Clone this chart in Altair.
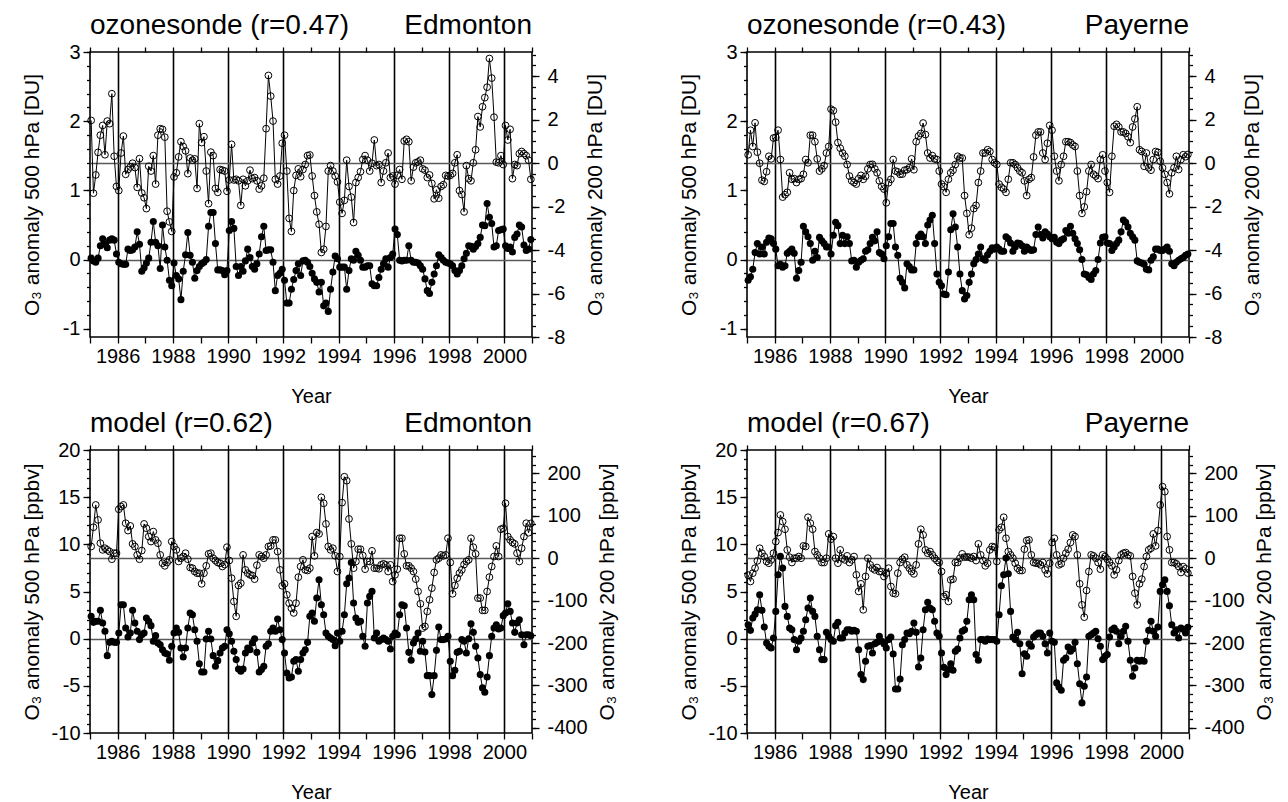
import altair as alt
import pandas as pd

FONT = "Liberation Sans"
FIRST_YEAR = 1985
LAST_YEAR = 2001

# ---------------- data (monthly anomalies, Jan 1985 .. Dec 2000) ----------------
# Edmonton ozonesonde, 500 hPa [DU] (filled dots, left axis)
EDM_SONDE_500 = [
    0.02, -0.02, -0.04, 0.02, 0.20, 0.30, 0.22, 0.17, 0.28, 0.30, 0.28, 0.08,
    -0.04, -0.06, -0.07, -0.07, 0.15, 0.13, 0.14, 0.18, 0.40, 0.22, -0.17, -0.12,
    -0.05, 0.02, 0.25, 0.55, 0.25, 0.20, -0.13, 0.50, 0.18, -0.01, -0.30, -0.38,
    -0.05, -0.23, -0.28, -0.58, -0.17, 0.07, 0.39, 0.06, -0.04, -0.27, -0.16, -0.10,
    -0.06, -0.04, 0.00, 0.48, 0.68, 0.68, 0.23, -0.15, -0.15, -0.16, -0.22, -0.16,
    0.42, 0.55, 0.45, -0.10, -0.23, -0.10, -0.17, -0.02, 0.15, 0.03, -0.10, -0.14,
    -0.06, 0.08, 0.33, 0.48, 0.13, 0.14, 0.14, -0.04, -0.45, -0.23, -0.20, -0.14,
    -0.30, -0.63, -0.63, -0.43, -0.29, -0.16, -0.06, -0.23, -0.02, -0.01, -0.04, -0.10,
    -0.20, -0.28, -0.33, -0.47, -0.33, -0.67, -0.63, -0.75, -0.43, -0.18, 0.05, 0.01,
    -0.11, -0.11, -0.11, -0.43, -0.16, 0.01, -0.01, 0.12, 0.06, -0.01, -0.11, -0.11,
    -0.09, -0.09, -0.35, -0.38, -0.38, -0.26, -0.14, -0.06, 0.01, -0.11, 0.03, 0.08,
    0.44, 0.36, -0.01, -0.02, -0.01, -0.01, 0.20, -0.01, -0.04, -0.04, -0.05, -0.09,
    -0.14, -0.28, -0.45, -0.49, -0.33, -0.21, -0.09, 0.07, 0.03, -0.01, -0.04, -0.05,
    -0.06, -0.09, -0.16, -0.21, -0.16, -0.09, 0.01, 0.09, 0.20, 0.19, 0.15, 0.19,
    0.23, 0.32, 0.50, 0.49, 0.81, 0.61, 0.52, 0.18, 0.20, 0.42, 0.43, 0.44,
    0.20, 0.16, 0.18, 0.11, 0.32, 0.37, 0.50, 0.47, 0.21, 0.13, 0.15, 0.29,
]
# Edmonton ozonesonde, 200 hPa [DU] (open circles, right axis)
EDM_SONDE_200 = [
    1.97, -1.38, -0.54, 0.50, 1.29, 1.74, 0.39, 1.94, 1.82, 3.20, 0.32, -1.07,
    -1.26, 0.47, 1.25, -0.51, -0.29, -0.17, 0.00, -0.20, -1.11, 0.21, -1.37, -1.59,
    -2.09, -0.14, -0.36, 0.35, -0.96, 1.29, 1.59, 1.56, 1.20, -2.21, -2.70, -3.14,
    -0.63, -0.44, 0.29, 0.99, 0.77, 0.57, -0.48, 0.24, 0.14, 0.20, -1.16, 1.82,
    0.95, 1.22, -0.36, -1.86, 0.51, 0.35, -1.16, -1.34, -0.29, -0.32, -0.36, -1.29,
    -0.77, 0.87, -0.77, -0.74, -0.81, -1.94, -0.74, -1.04, -0.81, -0.32, -0.71, -0.66,
    -0.81, -1.19, -1.04, -0.69, 1.59, 4.04, 3.09, 1.94, -0.74, -0.96, -0.59, 0.92,
    1.29, -0.36, -2.54, -3.14, -1.26, -0.56, -0.26, -0.62, -0.29, -0.06, 0.35, 0.38,
    -0.59, -1.49, -2.24, -2.81, -4.11, -3.96, -2.91, -0.36, -0.11, -0.36, -0.59, -0.86,
    -1.79, -2.31, -1.71, 0.14, -1.07, -1.56, -2.73, -0.89, -0.66, -0.39, 0.17, 0.35,
    0.14, -0.36, 0.00, 1.07, -0.11, -0.06, -0.89, -0.36, 0.02, 0.47, -0.66, -0.59,
    -0.96, -0.56, -0.29, -0.74, 1.02, 1.10, 0.99, -0.81, -0.18, 0.02, 0.06, 0.14,
    -0.26, -0.32, -0.66, -0.54, -0.93, -1.64, -1.22, -1.61, -1.07, -0.99, -0.56, -0.59,
    -0.56, -0.47, 0.02, 0.39, -1.26, -1.44, -2.24, -0.11, -0.71, -0.81, 0.02, 0.62,
    2.15, 1.67, 2.60, 3.02, 3.50, 4.82, 3.92, 2.12, 0.05, 0.02, 0.35, -0.06,
    1.74, 1.07, 1.56, -0.71, -0.06, -0.11, 0.44, 0.54, 0.44, 0.35, 0.14, -0.74,
]
# Payerne ozonesonde, 500 hPa [DU]
PAY_SONDE_500 = [
    -0.30, -0.25, -0.14, 0.10, 0.23, 0.08, 0.18, 0.08, 0.25, 0.31, 0.30, 0.23,
    0.15, -0.09, -0.07, -0.11, -0.09, 0.09, 0.12, 0.15, 0.09, -0.27, -0.16, -0.04,
    0.48, 0.40, 0.33, 0.23, -0.01, 0.12, 0.03, 0.32, 0.27, 0.23, 0.18, 0.18,
    0.08, 0.35, 0.54, 0.49, 0.23, 0.35, 0.23, 0.33, 0.23, -0.02, -0.01, -0.11,
    -0.04, -0.01, 0.01, 0.12, 0.14, 0.23, 0.32, 0.27, 0.40, 0.10, 0.08, 0.01,
    0.20, 0.33, 0.52, 0.52, 0.18, 0.06, -0.27, -0.33, -0.41, -0.06, -0.10, -0.15,
    -0.15, 0.23, 0.33, 0.37, 0.33, 0.23, 0.50, 0.57, 0.64, 0.23, -0.21, -0.33,
    -0.38, -0.50, -0.51, -0.18, 0.43, 0.66, 0.47, 0.18, -0.21, -0.45, -0.57, -0.52,
    -0.33, -0.21, -0.06, 0.00, 0.08, 0.18, 0.01, -0.01, 0.07, 0.12, 0.17, 0.15,
    0.18, 0.15, 0.12, 0.12, 0.33, 0.30, 0.24, 0.12, 0.18, 0.24, 0.23, 0.20,
    0.12, 0.18, 0.15, 0.13, 0.14, 0.36, 0.47, 0.36, 0.31, 0.40, 0.37, 0.33,
    0.30, 0.32, 0.25, 0.23, 0.28, 0.30, 0.42, 0.38, 0.48, 0.38, 0.30, 0.23,
    0.14, 0.00, -0.21, -0.22, -0.26, -0.29, -0.21, -0.16, 0.00, 0.24, 0.32, 0.33,
    0.24, 0.23, 0.13, 0.18, 0.23, 0.28, 0.40, 0.57, 0.54, 0.47, 0.38, 0.33,
    0.28, -0.02, -0.04, -0.05, -0.07, -0.14, -0.15, -0.01, 0.04, 0.15, 0.15, 0.13,
    0.13, 0.15, 0.18, 0.12, -0.06, -0.09, -0.04, -0.01, 0.01, 0.03, 0.06, 0.08,
]
# Payerne ozonesonde, 200 hPa [DU]
PAY_SONDE_200 = [
    0.39, 1.52, 0.77, 1.86, 0.51, 0.00, -0.78, -0.84, -0.39, 0.32, 0.20, 1.16,
    1.19, 1.52, 0.17, -1.56, -1.45, -1.34, -0.44, -0.74, -0.71, -0.89, -0.74, -0.71,
    -0.51, 0.17, 0.02, 1.29, 1.29, 0.99, 0.20, -0.36, -0.26, -0.11, 0.47, 0.77,
    2.49, 2.42, 1.89, 0.95, 0.69, 0.47, 0.32, -0.06, -0.59, -0.81, -0.89, -0.96,
    -0.71, -0.56, -0.74, -0.60, -0.26, -0.06, -0.05, -0.26, -0.44, -0.81, -1.07, -1.19,
    -1.82, -0.90, -0.74, 0.17, -0.36, -0.40, -0.51, -0.50, -0.32, -0.30, -0.21, 0.20,
    -0.30, 0.99, 1.25, 1.37, 1.85, 1.32, 0.47, 0.24, 0.35, 0.20, 0.17, -0.36,
    -0.96, -1.08, -1.34, -0.74, -0.44, -0.32, -0.06, 0.32, 0.24, 0.24, -1.49, -2.31,
    -3.29, -2.99, -2.09, -1.94, -0.89, -0.36, 0.47, 0.47, 0.62, 0.54, 0.17, 0.02,
    -0.06, -0.96, -1.11, -1.19, -1.34, -0.74, 0.02, 0.02, -0.06, -0.21, -0.36, -0.44,
    -0.81, -1.49, -0.74, -0.66, 0.29, 1.29, 1.44, 1.44, 0.47, 0.17, 0.92, 1.74,
    1.52, 0.32, -0.36, -0.81, -0.06, 0.32, 0.99, 0.99, 0.95, 0.84, 0.77, -0.36,
    -1.49, -2.31, -2.01, -1.31, -0.36, -0.06, -0.51, -0.59, -0.71, 0.17, 0.39, -0.36,
    -0.89, -1.34, 0.32, 1.70, 1.79, 1.67, 1.44, 1.44, 1.37, 1.22, 0.95, 1.67,
    2.04, 2.60, 0.62, 0.54, -0.14, 0.47, -0.21, -0.32, 0.17, 0.54, 0.50, 0.09,
    -0.21, -0.51, -0.89, -1.41, -0.44, -0.21, 0.32, -0.29, 0.17, 0.39, 0.30, 0.40,
]
# Edmonton model, 500 hPa [ppbv]
EDM_MODEL_500 = [
    2.37, 1.73, 1.84, 1.84, 3.00, 1.66, 0.78, -1.80, -0.39, -0.28, -0.39, -0.39,
    0.60, 3.60, 3.60, 1.13, 0.18, 0.60, 3.00, 1.66, 0.78, -0.10, 0.42, 0.60,
    2.19, 1.84, 1.38, -0.28, 0.32, -0.46, -0.64, -1.17, -1.52, -1.62, -2.29, -0.81,
    0.60, 1.13, 0.67, -0.99, -1.94, -0.99, 1.13, 2.72, 2.54, 0.95, -0.28, -2.65,
    -3.53, -3.53, -0.04, 0.78, -0.04, -1.80, -2.93, -2.33, -1.52, -0.99, -0.81, 0.95,
    0.53, -0.28, -1.34, -2.22, -3.21, -3.46, -3.21, -1.52, -0.99, -1.17, -0.46, 0.00,
    -1.45, -3.53, -3.28, -2.93, -0.81, -0.53, 0.78, 1.13, 0.78, 2.08, 0.95, -0.10,
    -1.52, -3.64, -4.17, -4.06, -2.40, -2.22, -3.46, -2.22, -1.52, -1.17, -0.39, 2.37,
    2.72, 1.84, 4.31, 6.25, 3.60, 2.54, 0.60, 0.25, 0.07, -0.10, -0.74, 0.60,
    -0.28, 0.78, 2.54, 5.82, 6.42, 8.08, 3.78, 2.19, 1.73, 1.84, 0.25, -0.81,
    3.78, 4.48, 5.01, 0.07, 0.60, -0.28, -0.10, 0.07, -0.10, -0.28, -1.09, 0.25,
    0.60, 0.42, 2.54, 3.60, 3.49, 1.13, -1.45, -2.29, -0.46, -0.04, 0.60, -1.34,
    -0.28, -1.41, -3.92, -3.92, -5.93, -3.92, -1.24, 1.24, -0.10, -0.10, -0.04, 0.25,
    -2.40, -3.92, -3.35, -1.45, -1.34, -0.10, -0.28, -1.52, 0.00, 1.59, 0.67, -0.81,
    -2.05, -3.81, -5.22, -5.68, -4.06, -1.80, 0.25, 1.13, 1.48, 1.02, 1.13, 2.44,
    2.72, 3.71, 2.89, 1.66, 0.67, 1.66, 2.01, 0.42, -0.64, 0.42, 0.42, 0.30,
]
# Edmonton model, 200 hPa [ppbv]
EDM_MODEL_200 = [
    27.5, 72.9, 125.5, 90.2, 35.3, 19.6, 23.5, 19.6, 15.7, -2.4, 11.8, 11.8,
    115.3, 121.6, 125.5, 82.4, 65.1, 76.1, 33.7, 27.5, 7.8, -2.4, 18.0, 80.8,
    70.6, 51.0, 39.2, 62.7, 43.1, 35.3, 7.8, -11.8, -18.0, -10.2, -3.9, 39.2,
    27.5, 19.6, -7.8, 0.0, 3.9, 11.8, -2.4, -22.0, -23.5, -31.4, -35.3, -35.3,
    -60.4, -35.3, -18.0, 10.2, 11.8, 0.0, -5.5, -10.2, -11.8, -19.6, -15.0, 25.9,
    -5.5, -47.1, -102.0, -137.0, -64.3, -58.8, 7.8, -27.5, -35.3, -39.2, -40.8, -49.4,
    -16.5, 7.8, 3.9, 0.0, 7.8, 27.5, 29.0, 43.1, 43.1, 15.7, -27.5, -65.1,
    -60.4, -86.3, -106.0, -118.0, -129.0, -106.0, -44.7, -19.6, -3.9, -27.5, -29.0, -23.5,
    51.0, 5.5, 60.4, 57.3, 143.5, 129.4, 80.8, 27.5, 19.6, 23.5, 5.5, -31.4,
    3.9, 131.0, 192.0, 182.7, 92.5, 33.7, -23.5, -7.8, 21.2, 21.2, 6.3, -25.9,
    -7.8, -7.8, 17.3, -23.5, -23.5, -25.0, -15.7, -13.3, -15.7, -31.4, -15.7, -54.9,
    -39.2, -25.9, 47.0, 47.0, 10.2, -18.0, -18.0, -23.5, -31.4, -49.4, -78.4, -107.5,
    -164.7, -160.8, -125.5, -98.0, -70.6, -33.7, -3.9, 0.0, 7.8, 5.5, 7.8, 47.0,
    -10.2, -83.9, -64.3, -47.1, -35.3, -27.5, -15.0, -7.8, -3.9, 47.0, 25.9, 10.2,
    -94.1, -94.0, -123.0, -123.0, -78.4, -44.7, -19.6, 3.9, 29.0, 3.9, 68.2, 70.6,
    129.4, 51.0, 43.1, 36.9, 33.7, 11.8, -7.8, 23.5, 51.0, 82.4, 60.0, 82.0,
]
# Payerne model, 500 hPa [ppbv]
PAY_MODEL_500 = [
    1.48, 0.88, 2.19, 2.60, 3.07, 4.66, 3.00, 1.24, -0.46, -0.81, -0.99, 0.07,
    2.89, 6.78, 8.72, 7.48, 3.42, 2.36, 1.13, 0.95, -0.10, -1.17, -0.28, 0.07,
    0.78, 2.01, 3.25, 4.31, 2.89, 2.36, 0.25, -1.17, -2.22, -2.22, 0.67, 0.25,
    -0.10, -0.28, 1.38, 1.73, 0.07, 0.07, 0.60, 0.95, 0.95, 0.78, 0.88, 0.78,
    -1.17, -3.81, -4.34, -2.40, -0.81, -0.74, -1.52, -0.53, -0.39, 0.25, -0.28, -0.53,
    -0.99, -0.10, 0.18, -1.62, -5.33, -5.33, -4.27, -0.64, -0.10, 0.60, 0.53, 0.78,
    1.66, 0.67, -3.00, -2.05, 0.95, 3.07, 3.85, 3.25, 3.07, 1.84, 0.60, 0.25,
    -1.52, -3.04, -3.81, -3.28, -2.65, -3.35, -1.34, -1.09, 0.07, 0.78, 0.95, 1.84,
    4.13, 4.66, 4.13, -1.69, -2.29, -0.10, -0.10, -0.28, -0.04, -0.10, -0.10, -0.10,
    -0.28, 2.54, 5.61, 6.78, 8.54, 6.88, 2.89, 0.18, -0.10, 0.67, -0.53, -3.71,
    -1.59, -1.87, -0.53, -0.81, 0.18, 0.42, 0.60, 0.60, 0.25, -0.53, -1.52, 0.60,
    -0.28, -0.39, -4.69, -5.12, -5.47, -2.29, -2.05, -0.88, -1.34, -1.09, -0.39, -2.65,
    -4.77, -6.81, -5.05, -4.06, 0.25, 0.42, 0.60, 0.78, 0.00, -0.81, -2.22, -1.87,
    -1.69, 0.18, 0.95, 1.13, 0.78, -0.53, 0.25, 0.78, 1.31, -0.28, -2.29, -3.99,
    -3.11, -2.29, -2.40, -2.29, -2.40, -0.28, 0.88, 1.84, 0.78, 0.25, 1.24, 5.01,
    5.72, 6.25, 5.01, 3.49, 1.48, 0.60, 0.95, 0.07, 1.13, 1.00, 0.60, 1.20,
]
# Payerne model, 200 hPa [ppbv]
PAY_MODEL_200 = [
    -40.0, -54.9, -35.3, -23.5, -6.3, 23.5, 11.8, 3.9, -7.8, -11.8, -3.9, 11.8,
    39.2, 60.4, 102.0, 86.3, 68.2, 19.6, 2.4, -10.2, 0.0, 0.0, 3.9, 0.0,
    29.0, 27.5, 96.5, 82.4, 68.2, 15.7, 7.8, 0.0, -10.2, -10.2, 0.0, 57.3,
    44.7, 51.0, 0.0, -11.8, 19.6, 0.0, -3.9, 5.5, -10.2, -3.9, 3.9, -39.2,
    -78.4, -60.4, -121.6, -43.1, 0.0, -15.7, -23.5, -27.5, -22.0, -31.4, -31.4, -43.1,
    -35.3, -23.5, -66.7, -82.4, -83.9, -35.3, -10.2, -2.4, 2.4, -15.7, -23.5, -31.4,
    -36.9, -15.7, 33.7, 68.2, 54.9, 19.6, 11.8, 15.7, 7.8, 0.0, -5.5, -10.2,
    -31.4, -90.2, -86.3, -102.0, -51.0, -49.4, -10.2, -10.2, 0.0, 10.2, 2.4, 3.0,
    2.4, 0.0, 3.9, -5.5, 33.7, 7.8, -5.5, -18.0, -11.8, 19.6, 27.5, 25.9,
    -7.8, 66.7, 72.9, 96.5, 47.0, 15.7, 7.8, 0.0, -11.8, -23.5, -29.0, -29.0,
    21.2, 41.6, 43.1, 7.8, -10.2, -11.8, -11.8, -15.7, -10.2, -27.5, -36.9, -11.8,
    36.9, 47.0, 7.8, -15.7, -13.0, 0.0, 11.8, 21.2, 36.9, 54.9, 51.0, 7.8,
    -60.4, -110.0, -139.0, -76.1, -31.4, 7.8, 5.5, 0.0, -10.2, -25.9, 7.8, 3.9,
    -2.4, -10.2, -18.0, -39.2, -27.5, -5.5, 7.8, 11.8, 13.3, 7.8, 5.5, -43.1,
    -82.4, -110.0, -60.4, -49.4, -19.6, 3.9, 19.6, 23.5, 57.3, 29.0, 65.1, 125.5,
    168.6, 156.9, 51.0, 19.6, -10.2, -10.2, -13.3, -19.6, -33.7, -20.0, -25.0, -35.0,
]

# ---------------- axis ticks ----------------
YEAR_TICKS = list(range(FIRST_YEAR, LAST_YEAR + 1))
SONDE_500_MAJOR = [-1, 0, 1, 2, 3]
SONDE_500_MINOR = [round(-1.0 + 0.2 * k, 1) for k in range(21)]
SONDE_200_MAJOR = [-8, -6, -4, -2, 0, 2, 4]
SONDE_200_MINOR = [-8.0 + 0.5 * k for k in range(27)]
MODEL_500_MAJOR = [-10, -5, 0, 5, 10, 15, 20]
MODEL_500_MINOR = list(range(-10, 21))
MODEL_200_MAJOR = [-400, -300, -200, -100, 0, 100, 200]
MODEL_200_MINOR = list(range(-400, 241, 20))

PANEL_W = 442
TOP_H = 285
BOT_H = 283
ZERO_COLOR = "#5a5a5a"


def month_times(n):
    return [FIRST_YEAR + (k + 0.5) / 12.0 for k in range(n)]


def x_channel(orient):
    scale = alt.Scale(domain=[FIRST_YEAR, LAST_YEAR], nice=False, zero=False)
    if orient == "bottom":
        axis = alt.Axis(
            orient="bottom", values=YEAR_TICKS,
            labelExpr="(datum.value % 2 == 0 && datum.value > 1985 && datum.value < 2001) ? '' + datum.value : ''",
            labelOverlap=False, labelFontSize=20, labelPadding=3, labelColor="black",
            tickSize=6, tickWidth=1.3, tickColor="black", domain=False,
            grid=True, gridColor="black", gridWidth=1.6,
            gridOpacity={"condition": {"test": "datum.value % 2 == 0", "value": 1}, "value": 0},
            title="Year", titleFontSize=20, titleFontWeight="normal", titleColor="black",
            titlePadding=20,
        )
    else:
        axis = alt.Axis(
            orient="top", values=YEAR_TICKS, labels=False,
            tickSize=5, tickWidth=1.3, tickColor="black", domain=False, grid=False,
            title="",
        )
    return alt.X("t:Q", scale=scale, axis=axis)


def major_axis(orient, values, title, extent, pad, label_pad):
    props = dict(
        orient=orient, values=values, labelExpr="'' + datum.value",
        labelOverlap=False, labelFontSize=20, labelPadding=label_pad, labelColor="black",
        tickSize=7, tickWidth=1.3, tickColor="black", domain=False,
        grid=True, gridColor=ZERO_COLOR, gridWidth=1.5,
        gridOpacity={"condition": {"test": "datum.value == 0", "value": 1}, "value": 0},
        title=title, titleFontSize=21, titleFontWeight="normal", titleColor="black",
        titlePadding=pad, minExtent=extent, maxExtent=extent,
    )
    if orient == "right":
        props["titleAngle"] = 270
        props["titleBaseline"] = "top"
    return alt.Axis(**props)


def minor_axis(orient, values):
    return alt.Axis(
        orient=orient, values=values, labels=False, tickSize=3.5, tickWidth=1.3,
        tickColor="black", domain=False, grid=False, title="", minExtent=0, maxExtent=4,
    )


def series(df, col, xorient, yorient, dom, major_vals, minor_vals, title, ext, pad, label_pad, filled):
    scale = alt.Scale(domain=dom, nice=False, zero=False)
    x = x_channel(xorient)
    y_major = alt.Y(f"{col}:Q", scale=scale,
                    axis=major_axis(yorient, major_vals, title, ext, pad, label_pad))
    y_minor = alt.Y(f"{col}:Q", scale=scale, axis=minor_axis(yorient, minor_vals))
    line = alt.Chart(df).mark_line(color="black", strokeWidth=1).encode(x=x, y=y_major)
    if filled:
        pts = alt.Chart(df).mark_circle(color="black", size=50, opacity=1)
    else:
        pts = alt.Chart(df).mark_point(shape="circle", filled=False, color="black",
                                       size=46, strokeWidth=1, opacity=1)
    pts = pts.encode(x=x, y=y_minor)
    return alt.layer(line, pts).resolve_axis(y="independent")


def panel(title_left, title_right, v500, v200, cfg, height):
    df = pd.DataFrame({"t": month_times(len(v500)), "a": v500, "b": v200})
    lay_l = series(df, "a", "bottom", "left", cfg["ldom"], cfg["lmajor"], cfg["lminor"],
                   cfg["ltitle"], cfg["lext"], cfg["lpad"], 3, True)
    lay_r = series(df, "b", "top", "right", cfg["rdom"], cfg["rmajor"], cfg["rminor"],
                   cfg["rtitle"], cfg["rext"], cfg["rpad"], 8, False)

    tl = alt.Chart(pd.DataFrame({"s": [title_left]})).mark_text(
        align="left", baseline="alphabetic", fontSize=28, font=FONT, color="black"
    ).encode(text="s:N", x=alt.value(0), y=alt.value(-18))
    tr = alt.Chart(pd.DataFrame({"s": [title_right]})).mark_text(
        align="right", baseline="alphabetic", fontSize=28, font=FONT, color="black"
    ).encode(text="s:N", x=alt.value(PANEL_W), y=alt.value(-18))

    return (
        alt.layer(lay_l, lay_r, tl, tr)
        .resolve_scale(y="independent")
        .resolve_axis(x="independent", y="independent")
        .properties(width=PANEL_W, height=height)
    )


SONDE_CFG = {
    "ldom": [-1.12, 3.0], "rdom": [-8.0, 5.12],
    "lmajor": SONDE_500_MAJOR, "lminor": SONDE_500_MINOR,
    "rmajor": SONDE_200_MAJOR, "rminor": SONDE_200_MINOR,
    "ltitle": "O\u2083 anomaly 500 hPa [DU]", "rtitle": "O\u2083 anomaly 200 hPa [DU]",
    "lext": 30, "lpad": 18, "rext": 36, "rpad": 16,
}
MODEL_CFG = {
    "ldom": [-10, 20], "rdom": [-412, 255],
    "lmajor": MODEL_500_MAJOR, "lminor": MODEL_500_MINOR,
    "rmajor": MODEL_200_MAJOR, "rminor": MODEL_200_MINOR,
    "ltitle": "O\u2083 anomaly 500 hPa [ppbv]", "rtitle": "O\u2083 anomaly 200 hPa [ppbv]",
    "lext": 44, "lpad": 4, "rext": 58, "rpad": 6,
}

p1 = panel("ozonesonde (r=0.47)", "Edmonton", EDM_SONDE_500, EDM_SONDE_200, SONDE_CFG, TOP_H)
p2 = panel("ozonesonde (r=0.43)", "Payerne", PAY_SONDE_500, PAY_SONDE_200, SONDE_CFG, TOP_H)
p3 = panel("model (r=0.62)", "Edmonton", EDM_MODEL_500, EDM_MODEL_200, MODEL_CFG, BOT_H)
p4 = panel("model (r=0.67)", "Payerne", PAY_MODEL_500, PAY_MODEL_200, MODEL_CFG, BOT_H)

chart = (
    alt.concat(p1, p2, p3, p4, columns=2, spacing={"row": 2, "column": 59})
    .properties(padding={"left": 12, "top": 3, "right": 2, "bottom": 2})
    .configure(font=FONT)
    .configure_view(stroke="black", strokeWidth=1.6)
    .configure_axis(labelFont=FONT, titleFont=FONT)
)

chart.save("out.html", embed_options={"renderer": "svg", "actions": False})
